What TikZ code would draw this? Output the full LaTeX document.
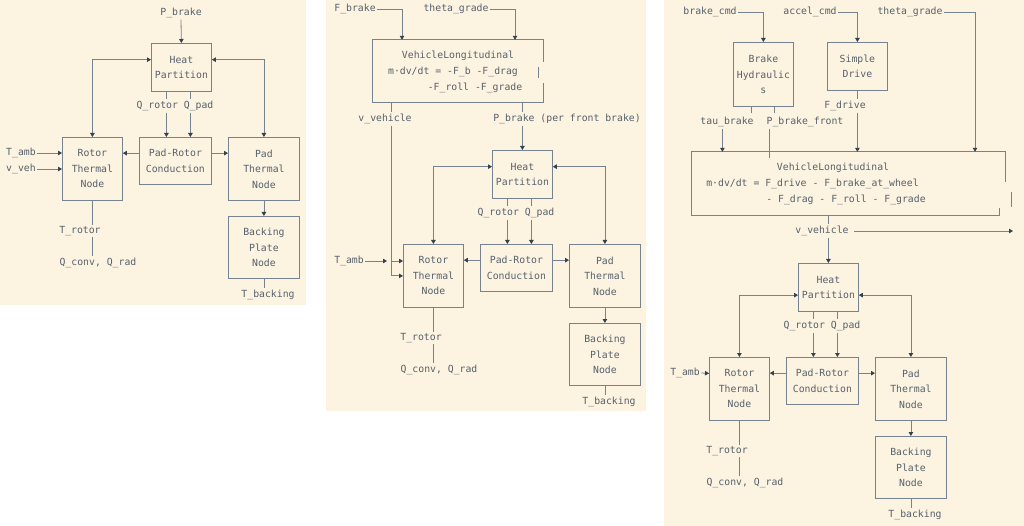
\documentclass[tikz,border=0pt]{standalone}
\usepackage{fontspec}
\setmainfont{DejaVu Sans Mono}
\usetikzlibrary{arrows.meta}
\definecolor{paper}{HTML}{FCF3E1}
\definecolor{wirec}{HTML}{74838F}
\definecolor{tipc}{HTML}{34414E}
\definecolor{inkc}{HTML}{56616C}
\tikzset{
  wire/.style={draw=wirec, line width=0.8pt},
  arr/.style={wire, -{Triangle[length=4pt,width=4.5pt,color=tipc]}},
  arrr/.style={wire, {Triangle[length=4pt,width=4.5pt,color=tipc]}-{Triangle[length=4pt,width=4.5pt,color=tipc]}},
  blk/.style={draw=wirec, line width=0.8pt, inner sep=0pt, align=center, anchor=north west},
  lbl/.style={inner sep=1.5pt},
  vbox/.style={inner sep=0pt},
}
\begin{document}
\begin{tikzpicture}[x=1pt, y=-1pt, text=inkc, font=\fontsize{9.8pt}{15.5pt}\selectfont]
  \useasboundingbox (0,0) rectangle (1024,526);
  \fill[white] (0,0) rectangle (1024,526);
  \fill[paper] (0,0) rectangle (306,305);
  \fill[paper] (326,0) rectangle (646,411);
  \fill[paper] (664,0) rectangle (1024,526);

  \foreach \ox/\oy/\ly [count=\i] in {151/43/7.75, 492/150/7.75, 798/263/-7.75}{
    \begin{scope}[shift={(\ox,\oy)}, name prefix=p\i-]
      \node[blk, minimum width=60, minimum height=48] (heat) at (0,0) {Heat\\Partition};
      \node[blk, minimum width=60, minimum height=63] (rotor) at (-89,94) {Rotor\\Thermal\\Node};
      \node[blk, minimum width=72, minimum height=47] (padrot) at (-12,94) {Pad-Rotor\\Conduction};
      \node[blk, minimum width=71, minimum height=63] (pad) at (77,94) {Pad\\Thermal\\Node};
      \node[blk, minimum width=71, minimum height=62] (back) at (77,173) {Backing\\Plate\\Node};
      \node[lbl] (q) at (24,63) {Q\_rotor Q\_pad};
      \node[lbl] (trot) at (-71,188) {T\_rotor};
      \node[lbl] (qconv) at (-53,220) {Q\_conv, Q\_rad};
      \node[lbl] (tback) at (117,252) {T\_backing};
      \draw[arrr] (rotor.north) |- ([yshift=\ly pt]heat.west);
      \draw[arrr] (pad.north) |- ([yshift=\ly pt]heat.east);
      \foreach \dx in {-15,9}{
        \draw[wire] ([xshift=\dx pt]heat.south) -- ([xshift=\dx pt]heat.south |- q.north);
        \draw[arr] ([xshift=\dx pt]heat.south |- q.south) -- ([xshift=\dx pt]heat.south |- padrot.north);
      }
      \draw[arr] ([yshift=7.75pt]padrot.west) -- ([yshift=7.75pt]padrot.west -| rotor.east);
      \draw[arr] ([yshift=7.75pt]padrot.east) -- ([yshift=7.75pt]padrot.east -| pad.west);
      \draw[arr] (pad.south) -- (back.north);
      \draw[wire] (rotor.south) -- (rotor.south |- trot.north);
      \draw[wire] (rotor.south |- trot.south) -- (rotor.south |- qconv.north);
      \draw[wire] (back.south) -- (back.south |- tback.north);
    \end{scope}
  }

  \node[lbl] (pb1) at (181,13) {P\_brake};
  \draw[arr] (pb1.south) -- (p1-heat.north);
  \node[lbl] (tamb1) at (21,153) {T\_amb};
  \node[lbl] (vveh1) at (21,169) {v\_veh};
  \draw[arr] (tamb1.east) -- (tamb1.east -| p1-rotor.west);
  \draw[arr] (vveh1.east) -- (vveh1.east -| p1-rotor.west);

  \node[lbl] (fb2) at (355,9) {F\_brake};
  \node[lbl] (th2) at (456,9) {theta\_grade};
  \node[vbox, minimum width=170, minimum height=62] (veh2) at (458,71) {};
  \draw[wire] ([yshift=19pt]veh2.south east) -- (veh2.south east) -- (veh2.south west) -- (veh2.north west) -- (veh2.north east) -- ++(0,22);
  \draw[wire] ([xshift=-5pt,yshift=-27pt]veh2.north east) -- ++(0,11);
  \node (vl2a) at (458,56) {VehicleLongitudinal};
  \node (vl2b) at (453,72) {m·dv/dt = -F\_b -F\_drag};
  \node (vl2c) at (475,88) {-F\_roll -F\_grade};
  \draw[arr] (fb2.east) -| ([xshift=-56pt]veh2.north);
  \draw[arr] (th2.east) -| ([xshift=57pt]veh2.north);
  \node[lbl] (vv2) at (385,119) {v\_vehicle};
  \node[lbl] (pbf2) at (567,119) {P\_brake (per front brake)};
  \draw[wire] ([xshift=-67pt]veh2.south) -- ([xshift=-67pt]veh2.south |- vv2.north);
  \draw[arr] ([xshift=-67pt]veh2.south |- vv2.south) |- (p2-rotor.west);
  \draw[wire] (veh2.south -| p2-heat.north) -- (pbf2.north -| p2-heat.north);
  \draw[arr] (pbf2.south -| p2-heat.north) -- (p2-heat.north);
  \coordinate (vdrop) at (391,261);
  \node[lbl] (tamb2) at (349,261) {T\_amb};
  \draw[arr] (tamb2.east) -- ([xshift=-4pt]vdrop);
  \draw[arr] (vdrop) -- (vdrop -| p2-rotor.west);

  \node[blk, minimum width=60, minimum height=64] (bh) at (733,42) {Brake\\Hydraulic\\s};
  \node[blk, minimum width=60, minimum height=48] (sd) at (827,42) {Simple\\Drive};
  \node[lbl] (bc3) at (710,12) {brake\_cmd};
  \node[lbl] (ac3) at (810,12) {accel\_cmd};
  \node[lbl] (th3) at (910,12) {theta\_grade};
  \node[vbox, minimum width=313, minimum height=63] (veh3) at (848.5,183.5) {};
  \draw[wire] ([xshift=-6pt,yshift=7pt]veh3.south east) -- ([xshift=-6pt]veh3.south east) -- (veh3.south west) -- (veh3.north west) -- (veh3.north east) -- ++(0,30);
  \draw[wire] ([xshift=6pt,yshift=-40pt]veh3.north east) -- ++(0,15);
  \node (vl3a) at (833,168) {VehicleLongitudinal};
  \node (vl3b) at (812.5,184) {m·dv/dt = F\_drive - F\_brake\_at\_wheel};
  \node (vl3c) at (846,200) {- F\_drag - F\_roll - F\_grade};
  \draw[arr] (bc3.east) -| (bh.north);
  \draw[arr] (ac3.east) -| (sd.north);
  \draw[arr] (th3.east) -| ([xshift=126.5pt]veh3.north);
  \node[lbl] (tau3) at (727,122) {tau\_brake};
  \node[lbl] (pbf3) at (805,122) {P\_brake\_front};
  \foreach \dx in {-12,11} \draw[wire] ([xshift=\dx pt]bh.south) -- ++(0,6);
  \draw[arr] ([xshift=-41pt]bh.south |- tau3.south) -- ([xshift=-41pt]bh.south |- veh3.north);
  \draw[wire] ([xshift=6pt]bh.south |- pbf3.south) -- ([xshift=6pt]bh.south |- veh3.north) -- ++(0,6);
  \node[lbl] (fd3) at (845,106) {F\_drive};
  \draw[wire] (sd.south) -- (sd.south |- fd3.north);
  \draw[arr] (sd.south |- fd3.south) -- (sd.south |- veh3.north);
  \node[lbl] (vv3) at (822,231) {v\_vehicle};
  \coordinate (vout3) at (1013,231);
  \draw[wire] (veh3.south -| p3-heat.north) -- (vv3.north -| p3-heat.north);
  \draw[arr] (vv3.south -| p3-heat.north) -- (p3-heat.north);
  \draw[arr] ([xshift=4pt]vv3.east) -- (vout3);
  \node[lbl] (tamb3) at (685,373) {T\_amb};
  \draw[arr] (tamb3.east) -- ([yshift=15.5pt]p3-rotor.west);
\end{tikzpicture}
\end{document}
